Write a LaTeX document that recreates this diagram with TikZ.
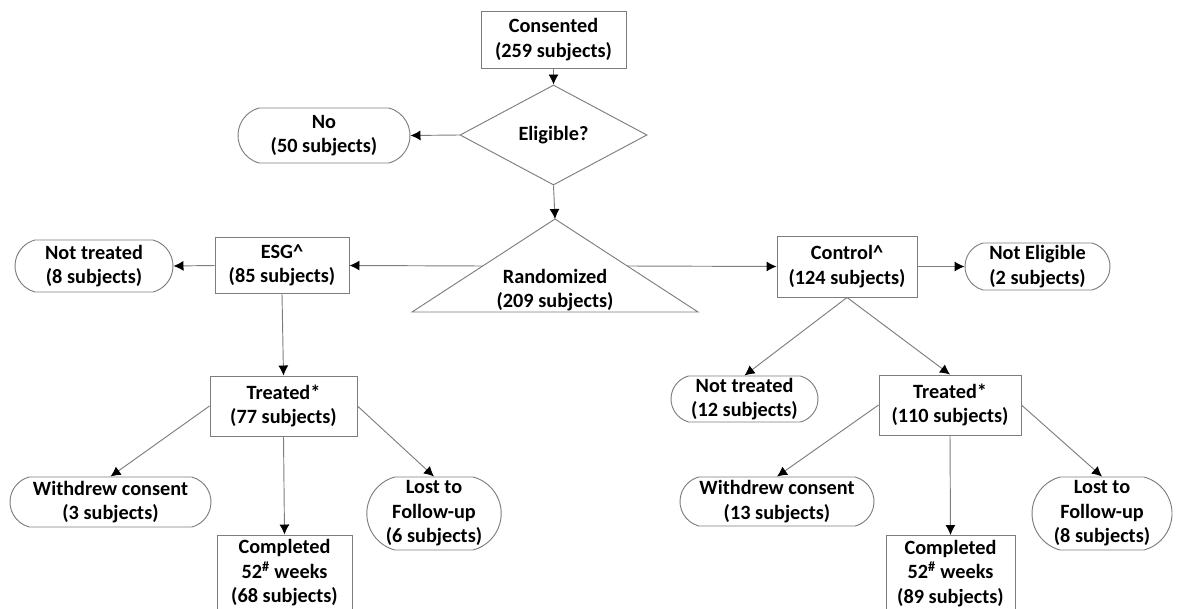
\documentclass[tikz,border=0pt]{standalone}
\usepackage{fontspec}
\setmainfont{Carlito}
\usetikzlibrary{shapes.geometric,shapes.misc,arrows.meta}
\definecolor{lin}{RGB}{125,125,125}
\begin{document}
\begin{tikzpicture}[x=0.75pt,y=-0.75pt,
  every node/.style={font=\fontsize{15.2pt}{18.4pt}\selectfont\bfseries, align=center, inner sep=0pt, text=black},
  sq/.style={draw=lin, line width=0.7pt, rectangle},
  rr/.style={draw=lin, line width=0.7pt, rounded rectangle, rounded rectangle arc length=150},
  dia/.style={draw=lin, line width=0.7pt, diamond},
  conn/.style={draw=lin, line width=0.7pt, -{Latex[length=7.5pt,width=7.5pt,color=black]}}
]
\useasboundingbox (0,0) rectangle (1187,609);
% top
\node[sq, minimum width=108.75pt, minimum height=42.75pt] (cons) at (553.5,39.5) {Consented\\(259 subjects)};
\node[dia, minimum width=140.25pt, minimum height=75pt] (elig) at (553.5,135) {Eligible?};
\node[rr, minimum width=129pt, minimum height=41.25pt] (no) at (324,135.5) {No\\(50 subjects)};
% triangle
\coordinate (apex) at (555,219);
\coordinate (bl) at (412,312);
\coordinate (br) at (698,312);
\coordinate (tl) at (482.8,266);
\coordinate (tr) at (627.2,266);
\draw[draw=lin, line width=0.7pt] (apex) -- (bl) -- (br) -- cycle;
\node (rand) at (555,290) {Randomized\\(209 subjects)};
% arms
\node[sq, minimum width=100.5pt, minimum height=42pt] (esg) at (282,265.5) {ESG\textasciicircum\\(85 subjects)};
\node[rr, minimum width=118.5pt, minimum height=39pt] (nt1) at (94,266) {Not treated\\(8 subjects)};
\node[sq, minimum width=105pt, minimum height=45.75pt] (ctrl) at (847,266.5) {Control\textasciicircum\\(124 subjects)};
\node[rr, minimum width=108.75pt, minimum height=35.25pt] (ne) at (1037.5,266.5) {Not Eligible\\(2 subjects)};
% left arm lower
\node[sq, minimum width=110.25pt, minimum height=45pt] (tr1) at (283.5,406) {Treated*\\(77 subjects)};
\node[rr, minimum width=150.75pt, minimum height=37.5pt] (wd1) at (110.5,502) {Withdrew consent\\(3 subjects)};
\node[sq, minimum width=101.25pt, minimum height=57pt] (cp1) at (284.5,573) {Completed\\52\textsuperscript{\#} weeks\\(68 subjects)};
\node[rr, minimum width=99pt, minimum height=54.75pt] (lf1) at (434,513.5) {Lost to\\Follow-up\\(6 subjects)};
% right arm lower
\node[rr, minimum width=110.25pt, minimum height=34.5pt] (nt2) at (744.5,399) {Not treated\\(12 subjects)};
\node[sq, minimum width=106.5pt, minimum height=45pt] (tr2) at (950,405) {Treated*\\(110 subjects)};
\node[rr, minimum width=145.5pt, minimum height=36.75pt] (wd2) at (777,501.5) {Withdrew consent\\(13 subjects)};
\node[sq, minimum width=96.75pt, minimum height=57pt] (cp2) at (950.5,573.5) {Completed\\52\textsuperscript{\#} weeks\\(89 subjects)};
\node[rr, minimum width=105pt, minimum height=54.75pt] (lf2) at (1102,513.5) {Lost to\\Follow-up\\(8 subjects)};
% connectors
\draw[conn] (cons.south) -- (elig.north);
\draw[conn] (elig.west) -- (no.east);
\draw[conn] (elig.south) -- (apex);
\draw[conn] (tl) -- (esg.east);
\draw[conn] (tr) -- (ctrl.west);
\draw[conn] (esg.west) -- (nt1.east);
\draw[conn] (ctrl.east) -- (ne.west);
\draw[conn] (esg.south) -- (tr1.north);
\draw[conn] (ctrl.south) -- (nt2.north);
\draw[conn] (ctrl.south) -- (tr2.north);
\draw[conn] (tr1.west) -- (wd1.north);
\draw[conn] (tr1.east) -- (lf1.north);
\draw[conn] (tr1.south) -- (cp1.north);
\draw[conn] (tr2.west) -- (wd2.north);
\draw[conn] (tr2.east) -- (lf2.north);
\draw[conn] (tr2.south) -- (cp2.north);
\end{tikzpicture}
\end{document}
